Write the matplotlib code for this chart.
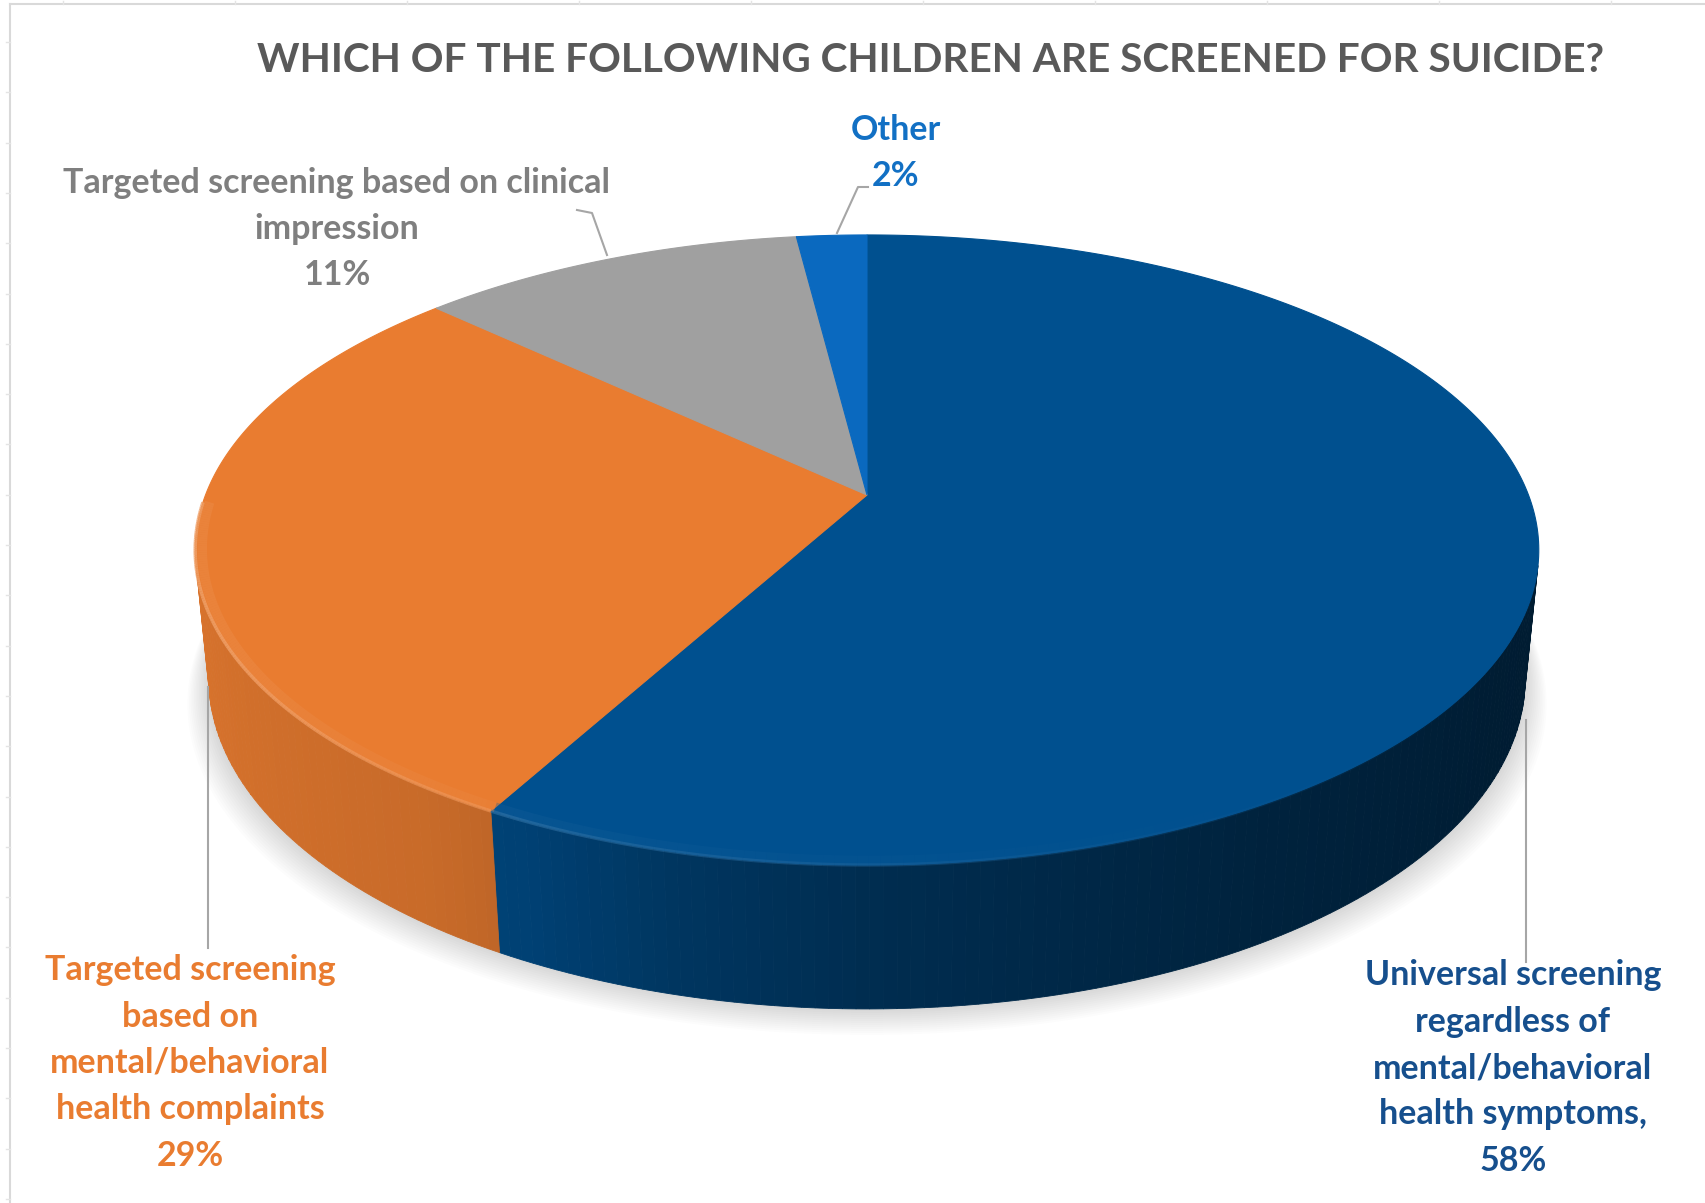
import numpy as np
import matplotlib.pyplot as plt
from matplotlib.patches import Polygon
from matplotlib.collections import LineCollection
from matplotlib.colors import to_rgb

# survey answers and share of respondents (%)
answers = ["Universal screening\nregardless of\nmental/behavioral\nhealth symptoms,",
           "Targeted screening\nbased on\nmental/behavioral\nhealth complaints",
           "Targeted screening based on clinical\nimpression",
           "Other"]
shares = [58, 29, 11, 2]
slice_colors = ["#00508f", "#e97c30", "#a0a0a0", "#0a69bf"]
text_colors = ["#164f8d", "#e97c30", "#7f7f7f", "#1270c4"]
title = "WHICH OF THE FOLLOWING CHILDREN ARE SCREENED FOR SUICIDE?"

W, H = 1706, 1203
FONT = "Lato"

# tilted camera for the 3d pie
elev = np.radians(27.5)
ce, se = np.cos(elev), np.sin(elev)
dist = 5.73 * ce
thick = 0.22
cx, cy, scale = 867, 495, 3362


def project(x, y, w):
    depth = dist + w * ce - y * se
    px = cx + scale * x / depth
    py = cy - scale * (y * ce + w * se) / depth
    return px, py


def rim(a0, a1, y=0.0, r=1.0, n=200):
    # angles run clockwise from 12 o'clock, like excel
    phi = np.linspace(a0, a1, n)
    return project(r * np.sin(phi), np.full_like(phi, y), r * np.cos(phi))


def shade(c, f):
    return tuple(np.clip(np.array(to_rgb(c)) * f, 0, 1))


def lighten(c, f):
    c = np.array(to_rgb(c))
    return tuple(c + (1 - c) * f)


def wall_factor(phi):
    # light comes from the front left
    d = np.degrees(phi)
    return np.interp(d, [90, 120, 150, 180, 195, 205, 215, 240, 270],
                     [0.33, 0.36, 0.43, 0.56, 0.68, 0.8, 0.86, 0.9, 0.95])


fig = plt.figure(figsize=(W / 100, H / 100), dpi=100)
ax = fig.add_axes([0, 0, 1, 1])
ax.set_xlim(0, W)
ax.set_ylim(H, 0)
ax.axis("off")

# sheet border with the faint cell ticks
ax.plot([10, 10], [4, H], color="#d9d9d9", lw=1.5, zorder=0)
ax.plot([10, W], [4, 4], color="#d9d9d9", lw=1.5, zorder=0)
for yy in np.arange(42, H, 50.3):
    ax.plot([6, 10], [yy, yy], color="#e4e4e4", lw=1, zorder=0)
for xx in np.arange(63, W, 172):
    ax.plot([xx, xx], [1, 4], color="#e4e4e4", lw=1, zorder=0)

bounds = np.concatenate([[0], np.cumsum(shares)]) / sum(shares) * 2 * np.pi

# soft shadow under the pie
bx, by = rim(0, 2 * np.pi, y=-thick, n=400)
for k in range(14):
    ax.fill(cx + (bx - cx) * (1 + 0.0025 * k), by + 2.0 * k, color="black",
            alpha=0.012, lw=0, zorder=1)

# outer walls, only the part facing the camera
vis0 = np.arccos(-1 / (dist * ce))
vis1 = 2 * np.pi - vis0
for i in range(len(shares)):
    a0, a1 = max(bounds[i], vis0), min(bounds[i + 1], vis1)
    if a1 <= a0:
        continue
    edges = np.linspace(a0, a1, int(np.degrees(a1 - a0)) + 2)
    for e0, e1 in zip(edges[:-1], edges[1:]):
        tx, ty = rim(e0, e1, n=6)
        lx, ly = rim(e1, e0, y=-thick, n=6)
        col = shade(slice_colors[i], wall_factor(0.5 * (e0 + e1)))
        ax.add_patch(Polygon(np.column_stack([np.r_[tx, lx], np.r_[ty, ly]]),
                             fc=col, ec=col, lw=0.6, zorder=2))

# top faces
for i in range(len(shares)):
    tx, ty = rim(bounds[i], bounds[i + 1], n=300)
    pts = np.column_stack([np.r_[cx, tx], np.r_[cy, ty]])
    ax.add_patch(Polygon(pts, fc=slice_colors[i], ec=slice_colors[i], lw=0.8, zorder=3))

# rounded bevel on the front rim: soft band plus a thin highlight
for i in range(len(shares)):
    a0, a1 = max(bounds[i], vis0 - 0.3), min(bounds[i + 1], vis1 + 0.2)
    if a1 <= a0:
        continue
    phi = np.linspace(a0, a1, 150)
    amt = np.clip((np.degrees(phi[:-1]) - 120) / 120, 0, 1)
    for r, lw, gain, alpha in [(0.99, 7, 0.12, 0.45), (1.0, 2.5, 0.28, 0.8)]:
        hx, hy = project(r * np.sin(phi), np.zeros_like(phi), r * np.cos(phi))
        segs = [[(hx[j], hy[j]), (hx[j + 1], hy[j + 1])] for j in range(len(phi) - 1)]
        cols = [lighten(slice_colors[i], gain * a) + (alpha * a,) for a in amt]
        ax.add_collection(LineCollection(segs, colors=cols, lw=lw, zorder=4,
                                         capstyle="butt"))

# data labels with leader lines
label_xy = [(1513, 1068), (190, 1063), (337, 229), (896, 153)]
leaders = [[(1526, 720), (1526, 962)],
           [(208, 687), (208, 948)],
           [(577, 210), (592, 213), (607, 255)],
           [(868, 187), (858, 187), (837, 233)]]
for i, txt in enumerate(answers):
    lx, ly = zip(*leaders[i])
    ax.plot(lx, ly, color="#a6a6a6", lw=1.5, zorder=5)
    ax.text(label_xy[i][0], label_xy[i][1], f"{txt}\n{shares[i]}%",
            ha="center", va="center", multialignment="center", linespacing=1.55,
            fontsize=24.5, fontweight="bold", family=FONT, color=text_colors[i], zorder=6)

ax.text(931, 60, title, ha="center", va="center", fontsize=29.2, fontweight="bold",
        family=FONT, color="#595959")

fig.savefig("out.png", dpi=100, facecolor="white")
